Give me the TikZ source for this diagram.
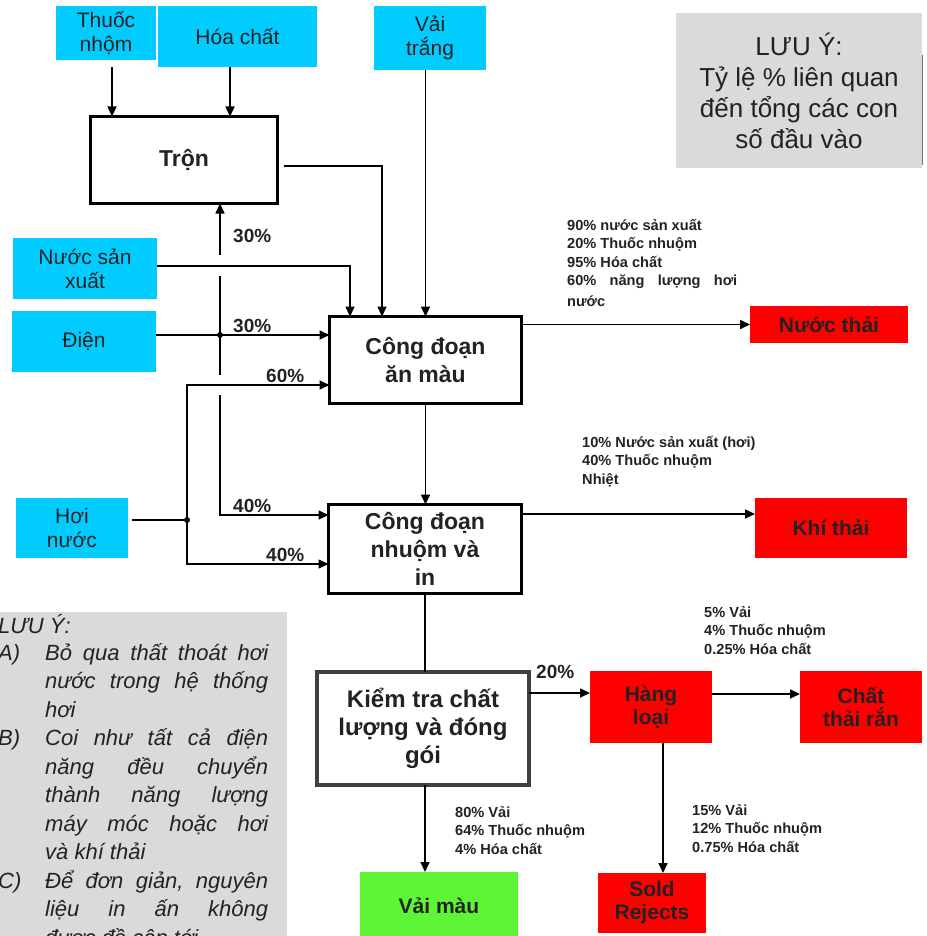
\documentclass[tikz,border=0pt]{standalone}
\usepackage{fontspec}
\setmainfont{Liberation Sans}
\usetikzlibrary{arrows.meta}
\definecolor{cyanc}{RGB}{0,204,255}
\definecolor{redc}{RGB}{255,0,0}
\definecolor{greenc}{RGB}{95,245,55}
\definecolor{notec}{RGB}{218,218,218}
\definecolor{txt}{RGB}{34,34,34}
\begin{document}
\begin{tikzpicture}[x=1pt,y=-1pt,
  inbox/.style={fill=cyanc, text=txt, align=center, inner sep=0pt, outer sep=0pt, font=\fontsize{21}{24}\selectfont},
  procbox/.style={draw=black, line width=3pt, fill=white, text=txt, align=center, inner sep=0pt, outer sep=0pt, font=\bfseries\fontsize{23}{28}\selectfont},
  outbox/.style={fill=redc, text=txt, align=center, inner sep=0pt, outer sep=0pt, font=\bfseries\fontsize{21}{23}\selectfont},
  flow/.style={line width=1.6pt, -{Triangle[length=10pt,width=9pt]}},
  wire/.style={line width=1.6pt},
  pct/.style={anchor=base west, inner sep=0pt, text=txt, font=\bfseries\fontsize{19}{22}\selectfont},
  ann/.style={anchor=base west, inner sep=0pt, text=txt, font=\bfseries\fontsize{14.6}{18.5}\selectfont},
  notetxt/.style={anchor=base west, inner sep=0pt, text=txt, font=\itshape\fontsize{22}{28.5}\selectfont}
]
\useasboundingbox (0,0) rectangle (926,936);
\clip (0,0) rectangle (926,936);

% ---- notes ----
\node[fill=notec, minimum width=246pt, minimum height=155pt, inner sep=0pt, text=txt, align=center,
      font=\fontsize{26}{31}\selectfont] (note1) at (799,90.5)
      {LƯU Ý:\\Tỷ lệ \% liên quan\\đến tổng các con\\số đầu vào};
\draw[line width=1.2pt, black!55] ([yshift=-42pt]note1.north east) -- ([yshift=3pt]note1.south east);

\node[fill=notec, minimum width=287pt, minimum height=330pt, inner sep=0pt, anchor=north west] (note2) at (0,612) {};
\node[notetxt] (luuy) at (-2,633) {LƯU Ý:};
\node[notetxt] (itema) at (-2,660) {A)};
\node[notetxt] (itemb) at (-2,745.5) {B)};
\node[notetxt] (itemc) at (-2,888) {C)};
\node[notetxt] (notebody) at (45,660) {\vtop{%
  \hbox to 223pt{Bỏ\hfill qua\hfill thất\hfill thoát\hfill hơi}%
  \hbox to 223pt{nước\hfill trong\hfill hệ\hfill thống}%
  \hbox{hơi}%
  \hbox to 223pt{Coi\hfill như\hfill tất\hfill cả\hfill điện}%
  \hbox to 223pt{năng\hfill đều\hfill chuyển}%
  \hbox to 223pt{thành\hfill năng\hfill lượng}%
  \hbox to 223pt{máy\hfill móc\hfill hoặc\hfill hơi}%
  \hbox{và khí thải}%
  \hbox to 223pt{Để\hfill đơn\hfill giản,\hfill nguyên}%
  \hbox to 223pt{liệu\hfill in\hfill ấn\hfill không}%
  \hbox{được đề cập tới}}};

% ---- inputs ----
\node[inbox, minimum width=100pt, minimum height=54pt] (thuoc) at (106,33) {Thuốc\\nhộm};
\node[inbox, minimum width=159pt, minimum height=61pt] (hoachat) at (237.5,36.5) {Hóa chất};
\node[inbox, minimum width=112pt, minimum height=64pt] (vaitrang) at (430,38) {Vải\\trắng};
\node[inbox, minimum width=144pt, minimum height=61pt] (nuoc) at (85,268.5) {Nước sản\\xuất};
\node[inbox, minimum width=144pt, minimum height=61pt] (dien) at (84,341.5) {Điện};
\node[inbox, minimum width=112pt, minimum height=60pt] (hoi) at (72,528) {Hơi\\nước};

% ---- process steps ----
\node[procbox, minimum width=187pt, minimum height=87pt] (tron) at (184,160) {Trộn};
\node[procbox, minimum width=192pt, minimum height=87pt] (anmau) at (425.5,360) {Công đoạn\\ăn màu};
\node[procbox, minimum width=193pt, minimum height=89pt] (nhuom) at (425,549) {Công đoạn\\nhuộm và\\in};
\node[procbox, draw=black!75, line width=4pt, minimum width=212pt, minimum height=113pt,
      font=\bfseries\fontsize{24}{28}\selectfont] (kiemtra) at (423,728.5) {Kiểm tra chất\\lượng và đóng\\gói};

% ---- outputs ----
\node[outbox, minimum width=158pt, minimum height=37pt] (nuocthai) at (829,324.5) {Nước thải};
\node[outbox, minimum width=152pt, minimum height=60pt] (khithai) at (831,528) {Khí thải};
\node[outbox, minimum width=122pt, minimum height=72pt] (hangloai) at (651,707) {Hàng\\loại};
\node[outbox, minimum width=122pt, minimum height=72pt] (chatthai) at (861,707) {Chất\\thải rắn};
\node[outbox, minimum width=108pt, minimum height=60pt] (sold) at (652,903) {Sold\\Rejects};
\node[outbox, fill=greenc, minimum width=158pt, minimum height=68pt] (vaimau) at (439,906) {Vải màu};

% ---- junctions and wire gaps ----
\coordinate (j1) at (220,335);
\coordinate (j2) at (187,520);
\coordinate (g1a) at (220,276);
\coordinate (g1b) at (220,255);
\coordinate (g2a) at (220,375);
\coordinate (g2b) at (220,395);

% ---- connectors ----
\draw[flow] ([xshift=6pt,yshift=-7pt]thuoc.south) -- ([xshift=6pt]thuoc.south |- tron.north);
\draw[flow] ([xshift=-7.5pt]hoachat.south) -- ([xshift=-7.5pt]hoachat.south |- tron.north);
\draw[flow] ([xshift=6pt,yshift=-6pt]tron.east) -| ([xshift=-43.5pt]anmau.north);
\draw[flow] (vaitrang.south -| anmau.north) -- (anmau.north);
\draw[flow] ([yshift=2.5pt]nuoc.east) -| ([xshift=-75.5pt]anmau.north);
\draw[flow] ([yshift=6.5pt]dien.east) -- (j1) -- (j1 -| anmau.west);
\draw[wire] (j1) -- (g1a);
\draw[flow] (g1b) -- (g1b |- tron.south);
\draw[wire] (j1) -- (g2a);
\draw[flow] (g2b) |- ([yshift=34pt]nhuom.west);
\draw[wire] ([xshift=4pt,yshift=8pt]hoi.east) -- (j2);
\draw[flow] (j2) |- ([yshift=-25pt]anmau.west);
\draw[flow] (j2) |- ([yshift=-15pt]nhuom.west);
\fill (j1) circle[radius=3pt];
\fill (j2) circle[radius=3pt];

\draw[flow] (nuocthai.west -| anmau.east) -- (nuocthai.west);
\draw[flow] (anmau.south) -- (anmau.south |- nhuom.north);
\draw[flow] ([yshift=14pt]khithai.west -| nhuom.east) -- ([yshift=14pt]khithai.west);
\draw[wire] (nhuom.south) -- (nhuom.south |- kiemtra.north);
\draw[flow] ([yshift=14pt]hangloai.west -| kiemtra.east) -- ([yshift=14pt]hangloai.west);
\draw[flow] ([yshift=13pt]hangloai.east) -- ([yshift=13pt]chatthai.west);
\draw[flow] ([xshift=12pt]hangloai.south) -- ([xshift=12pt]hangloai.south |- sold.north);
\draw[flow] ([xshift=2pt]kiemtra.south) -- ([xshift=2pt]kiemtra.south |- vaimau.north);

% ---- percentage labels ----
\node[pct] (p1) at (233,242) {30\%};
\node[pct] (p2) at (233,332) {30\%};
\node[pct] (p3) at (266,382) {60\%};
\node[pct] (p4) at (233,512) {40\%};
\node[pct] (p5) at (266,561) {40\%};
\node[pct] (p6) at (536,678) {20\%};

% ---- stream compositions ----
\node[ann] (a1) at (567,230) {\vtop{\hbox{90\% nước sản xuất}\hbox{20\% Thuốc nhuộm}\hbox{95\% Hóa chất}%
  \hbox to 170pt{60\%\hfill năng\hfill lượng\hfill hơi}\vskip2.5pt\hbox{nước}}};
\node[ann] (a2) at (582,447) {\vtop{\hbox{10\% Nước sản xuất (hơi)}\hbox{40\% Thuốc nhuộm}\hbox{Nhiệt}}};
\node[ann] (a3) at (704,617) {\vtop{\hbox{5\% Vải}\hbox{4\% Thuốc nhuộm}\hbox{0.25\% Hóa chất}}};
\node[ann] (a4) at (455,817) {\vtop{\hbox{80\% Vải}\hbox{64\% Thuốc nhuộm}\hbox{4\% Hóa chất}}};
\node[ann] (a5) at (692,815) {\vtop{\hbox{15\% Vải}\hbox{12\% Thuốc nhuộm}\hbox{0.75\% Hóa chất}}};
\end{tikzpicture}
\end{document}
